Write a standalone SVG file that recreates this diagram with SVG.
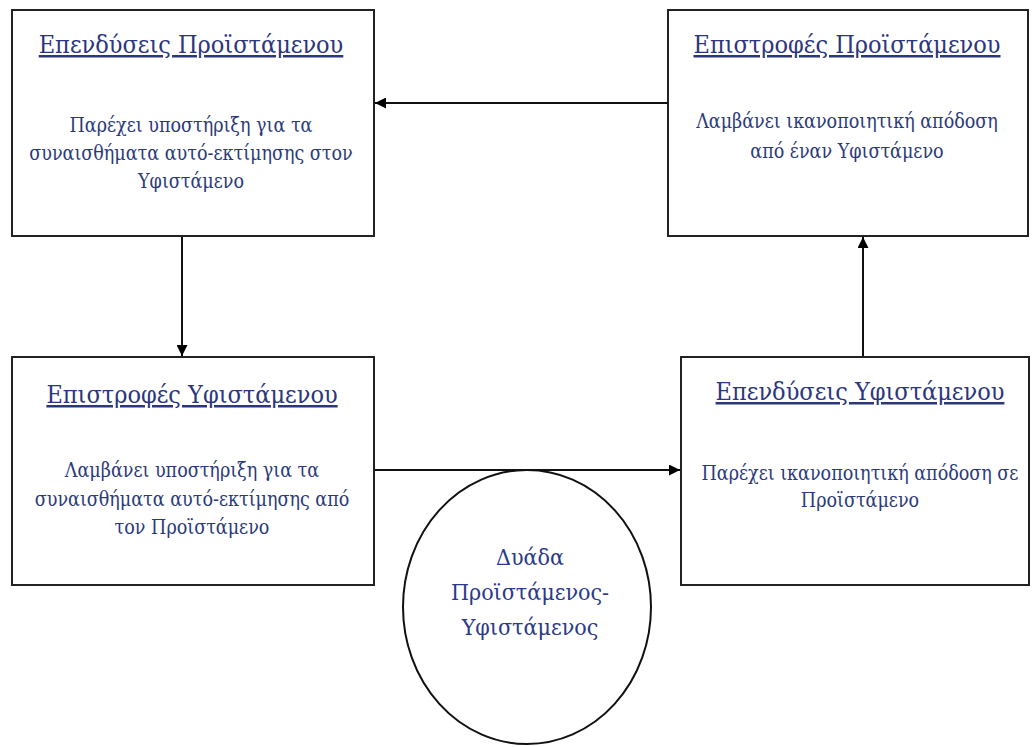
<svg xmlns="http://www.w3.org/2000/svg" width="1032" height="747" viewBox="0 0 1032 747">
<style>
.box{fill:#fff;stroke:#222;stroke-width:2}
.title{font-family:"DejaVu Serif Condensed","DejaVu Serif","Liberation Serif",serif;font-size:25px;fill:#2b3580;text-anchor:middle;text-decoration:underline}
.body{font-family:"DejaVu Serif Condensed","DejaVu Serif","Liberation Serif",serif;font-size:19.5px;fill:#2b3a7a;text-anchor:middle}
.big{font-family:"DejaVu Serif Condensed","DejaVu Serif","Liberation Serif",serif;font-size:23px;fill:#2b3a8a;text-anchor:middle}
.conn{stroke:#111;stroke-width:2;fill:none;marker-end:url(#ah)}
</style>
<defs>
<marker id="ah" viewBox="0 0 10 10" refX="10" refY="5" markerWidth="12" markerHeight="11" markerUnits="userSpaceOnUse" orient="auto">
<path d="M0,0 L10,5 L0,10 z" fill="#000"/>
</marker>
</defs>
<rect width="1032" height="747" fill="#fff"/>
<g id="investments-supervisor">
<rect class="box" x="12" y="10" width="362" height="226"/>
<text class="title" x="191" y="53">Επενδύσεις Προϊστάμενου</text>
<text class="body" x="191" y="132">Παρέχει υποστήριξη για τα</text>
<text class="body" x="191" y="160">συναισθήματα αυτό-εκτίμησης στον</text>
<text class="body" x="191" y="188">Υφιστάμενο</text>
</g>
<g id="returns-supervisor">
<rect class="box" x="668" y="10" width="360" height="226"/>
<text class="title" x="847" y="53">Επιστροφές Προϊστάμενου</text>
<text class="body" x="847" y="128">Λαμβάνει ικανοποιητική απόδοση</text>
<text class="body" x="847" y="158">από έναν Υφιστάμενο</text>
</g>
<g id="returns-subordinate">
<rect class="box" x="12" y="357" width="362" height="228"/>
<text class="title" x="192" y="403">Επιστροφές Υφιστάμενου</text>
<text class="body" x="192" y="477">Λαμβάνει υποστήριξη για τα</text>
<text class="body" x="192" y="506">συναισθήματα αυτό-εκτίμησης από</text>
<text class="body" x="192" y="534">τον Προϊστάμενο</text>
</g>
<g id="investments-subordinate">
<rect class="box" x="681" y="357" width="348" height="228"/>
<text class="title" x="860" y="400">Επενδύσεις Υφιστάμενου</text>
<text class="body" x="860" y="480">Παρέχει ικανοποιητική  απόδοση σε</text>
<text class="body" x="860" y="507">Προϊστάμενο</text>
</g>
<g id="dyad">
<ellipse cx="527" cy="607" rx="124" ry="137" fill="#fff" stroke="#111" stroke-width="2"/>
<text class="big" x="530" y="565">Δυάδα</text>
<text class="big" x="530" y="600">Προϊστάμενος-</text>
<text class="big" x="530" y="635">Υφιστάμενος</text>
</g>
<g id="connectors">
<line class="conn" x1="668" y1="103" x2="375" y2="103"/>
<line class="conn" x1="182" y1="237" x2="182" y2="356"/>
<line class="conn" x1="375" y1="470" x2="680" y2="470"/>
<line class="conn" x1="863" y1="356" x2="863" y2="237"/>
</g>
</svg>
